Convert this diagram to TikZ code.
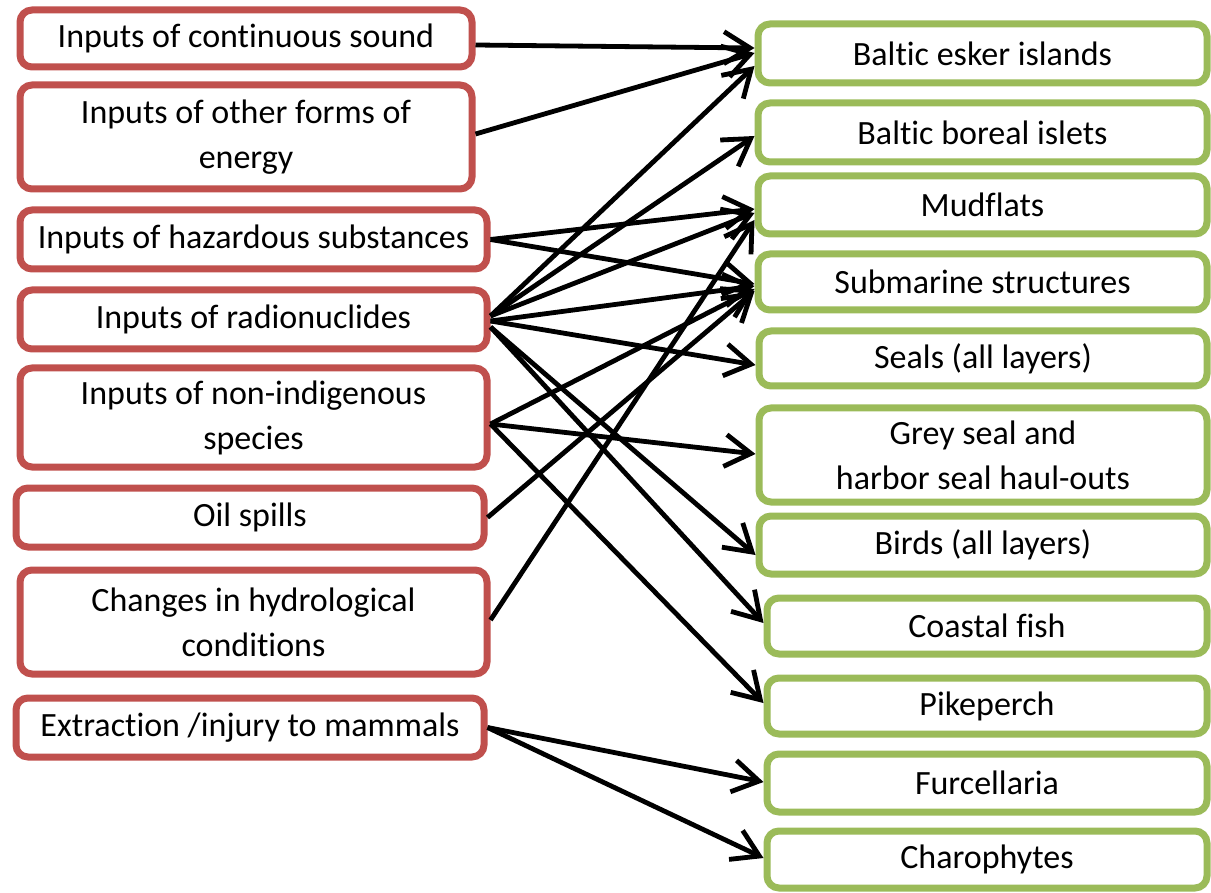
\documentclass[tikz,border=0pt]{standalone}
\usepackage{fontspec}
\setmainfont{Carlito}[Ligatures=NoCommon]
\usetikzlibrary{arrows.meta}
\definecolor{boxred}{RGB}{192,80,77}
\definecolor{boxgreen}{RGB}{155,187,89}
\begin{document}
\begin{tikzpicture}[x=0.5pt,y=-0.5pt,
  base/.style={draw,line width=3.5pt,rounded corners=6pt,fill=white,inner sep=2pt,align=center,
    font=\fontsize{17}{22.5}\selectfont,text=black},
  lbox/.style={base,draw=boxred},
  rbox/.style={base,draw=boxgreen},
  arr/.style={line width=2.4pt,-{Straight Barb[length=13pt,width=16pt]}}]
\useasboundingbox (0,0) rectangle (1211,893);
% left column
\node[lbox,minimum width=226pt,minimum height=28.5pt] (l1) at (246,38.5) {Inputs of continuous sound};
\node[lbox,minimum width=226pt,minimum height=52pt] (l2) at (246,137) {Inputs of other forms of\\energy};
\node[lbox,minimum width=233.5pt,minimum height=29.5pt] (l3) at (253.5,239.5) {Inputs of hazardous substances};
\node[lbox,minimum width=233.5pt,minimum height=29.5pt] (l4) at (253.5,319.5) {Inputs of radionuclides};
\node[lbox,minimum width=233.5pt,minimum height=49.5pt] (l5) at (253.5,417.5) {Inputs of non-indigenous\\species};
\node[lbox,minimum width=234pt,minimum height=29.5pt] (l6) at (250,517.5) {Oil spills};
\node[lbox,minimum width=233.5pt,minimum height=52pt] (l7) at (253.5,622) {Changes in hydrological\\conditions};
\node[lbox,minimum width=234pt,minimum height=29.5pt] (l8) at (250,727.5) {Extraction /injury to mammals};
% right column
\node[rbox,minimum width=224.5pt,minimum height=29.5pt] (r1) at (982.5,53.5) {Baltic esker islands};
\node[rbox,minimum width=224.5pt,minimum height=29.5pt] (r2) at (982.5,132.5) {Baltic boreal islets};
\node[rbox,minimum width=224.5pt,minimum height=29pt] (r3) at (982.5,205) {Mudflats};
\node[rbox,minimum width=224.5pt,minimum height=28pt] (r4) at (982.5,282) {Submarine structures};
\node[rbox,minimum width=224pt,minimum height=27.5pt] (r5) at (983,358.5) {Seals (all layers)};
\node[rbox,minimum width=224pt,minimum height=47pt] (r6) at (983,455) {Grey seal and\\harbor seal haul-outs};
\node[rbox,minimum width=224pt,minimum height=29pt] (r7) at (983,545) {Birds (all layers)};
\node[rbox,minimum width=220pt,minimum height=28pt] (r8) at (987,626) {Coastal fish};
\node[rbox,minimum width=220pt,minimum height=28pt] (r9) at (987,706) {Pikeperch};
\node[rbox,minimum width=220pt,minimum height=29pt] (r10) at (987,783) {Furcellaria};
\node[rbox,minimum width=220pt,minimum height=28.5pt] (r11) at (987,859.5) {Charophytes};
% connectors
\draw[arr] ([yshift=-3.25pt]l1.east) -- ([yshift=2.75pt]r1.west);
\draw[arr] ([yshift=1.5pt]l2.east) -- ([yshift=0.25pt]r1.west);
\draw[arr] (l3.east) -- ([yshift=-2pt]r3.west);
\draw[arr] (l3.east) -- ([yshift=-1pt]r4.west);
\draw[arr] ([yshift=1.75pt]l4.east) -- ([yshift=-6.25pt]r1.west);
\draw[arr] ([yshift=1.75pt]l4.east) -- ([yshift=-1.75pt]r2.west);
\draw[arr] ([yshift=1.75pt]l4.east) -- ([yshift=-4pt]r3.west);
\draw[arr] ([yshift=-0.75pt]l4.east) -- ([yshift=-2pt]r4.west);
\draw[arr] ([yshift=-0.75pt]l4.east) -- ([yshift=-3.25pt]r5.west);
\draw[arr] ([yshift=-3.75pt]l4.east) -- ([yshift=-5pt]r7.west);
\draw[arr] ([yshift=-3.75pt]l4.east) -- ([yshift=1.5pt]r8.west);
\draw[arr] ([yshift=-3.25pt]l5.east) -- ([yshift=-3.5pt]r4.west);
\draw[arr] ([yshift=-3.25pt]l5.east) -- ([yshift=0.5pt]r6.west);
\draw[arr] ([yshift=-3.25pt]l5.east) -- ([yshift=1.5pt]r9.west);
\draw[arr] (l6.east) -- ([yshift=-4.5pt]r4.west);
\draw[arr] ([yshift=1pt]l7.east) -- ([yshift=-7.5pt]r3.west);
\draw[arr] (l8.east) -- ([yshift=0.5pt]r10.west);
\draw[arr] (l8.east) -- ([yshift=0.75pt]r11.west);
\end{tikzpicture}
\end{document}
